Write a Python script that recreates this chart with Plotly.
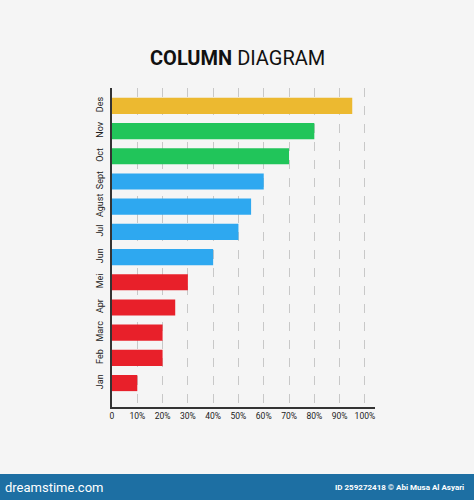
import plotly.graph_objects as go

months = ["Jan", "Feb", "Marc", "Apr", "Mei", "Jun", "Jul", "Agust", "Sept", "Oct", "Nov", "Des"]
values = [10, 20, 20, 25, 30, 40, 50, 55, 60, 70, 80, 95]
colors = ["#e8202a"] * 5 + ["#2ea8f0"] * 4 + ["#21c55a"] * 2 + ["#ecb930"]
tick_vals = [0, 10, 20, 30, 40, 50, 60, 70, 80, 90, 100]
tick_text = ["0", "10%", "20%", "30%", "40%", "50%", "60%", "70%", "80%", "90%", "100%"]

fig = go.Figure(go.Bar(y=months, x=values, orientation="h", marker_color=colors,
                       width=0.64, marker_line_width=0))

W, H = 474, 500
ml, mr, mt, mb = 112, 99, 88, 93
ph = H - mt - mb
pw = W - ml - mr

fig.update_layout(
    width=W, height=H, margin=dict(l=ml, r=mr, t=mt, b=mb),
    paper_bgcolor="#f5f5f5", plot_bgcolor="#f5f5f5", showlegend=False,
    font=dict(family="Roboto, Arial, sans-serif", color="#222"),
    xaxis=dict(range=[0, 104], tickvals=tick_vals, ticktext=tick_text,
               tickfont=dict(size=8.5, color="#222"), showgrid=True, gridcolor="#c8c8c8",
               griddash="dash", gridwidth=1, zeroline=False, showline=True,
               linecolor="#333", linewidth=1.5, ticks="", ticklen=0),
    yaxis=dict(range=[-0.95, 11.71], tickfont=dict(size=9, color="#222"), tickangle=-90,
               showgrid=False, zeroline=False, showline=True, linecolor="#333",
               linewidth=1.5, ticks="", ticklabelstandoff=4),
    annotations=[
        dict(text="<b>COLUMN</b> DIAGRAM", x=(237 - ml) / pw, y=1 + 30 / ph, xref="paper", yref="paper",
             xanchor="center", yanchor="middle", showarrow=False,
             font=dict(size=20, color="#111", family="Roboto, Arial, sans-serif")),
        dict(text="dreamstime.com", x=-ml / pw + 0.01, y=-81 / ph, xref="paper", yref="paper",
             xanchor="left", yanchor="middle", showarrow=False,
             font=dict(size=13, color="white")),
        dict(text="<b>ID 259272418 © Abi Musa Al Asyari</b>", x=1 + (mr - 8) / pw, y=-81 / ph,
             xref="paper", yref="paper", xanchor="right", yanchor="middle", showarrow=False,
             font=dict(size=8, color="white")),
    ],
    shapes=[dict(type="rect", xref="paper", yref="paper", layer="below",
                 x0=-ml / pw, x1=1 + mr / pw,
                 y0=-mb / ph, y1=-67 / ph, fillcolor="#1d6fa3", line_width=0)],
)
fig.write_html("out.html", config={"displayModeBar": False},
               post_script="document.body.style.margin='0';document.body.style.background='#f5f5f5';")
